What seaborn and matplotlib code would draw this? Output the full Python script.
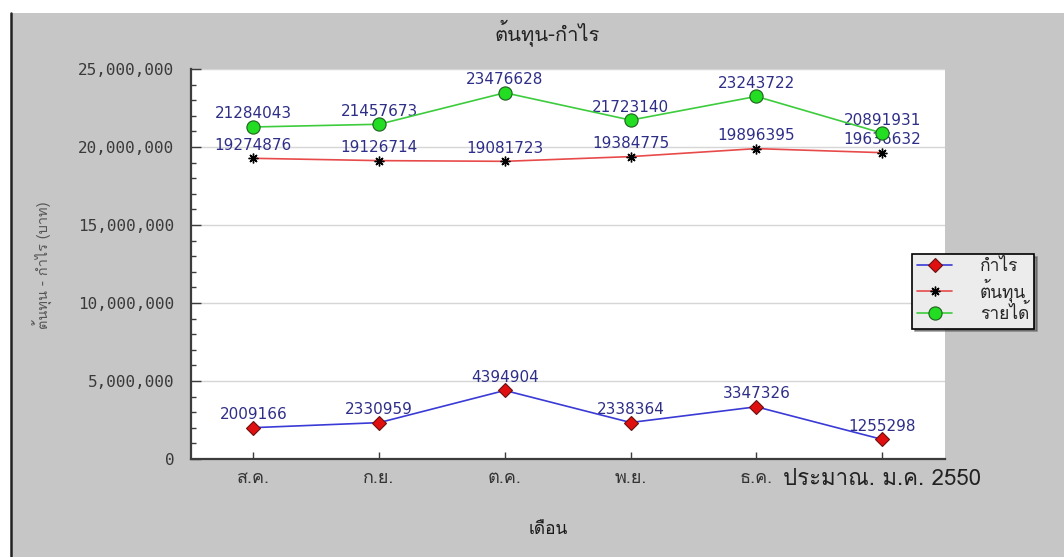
import numpy as np
import pandas as pd
import matplotlib
matplotlib.use("Agg")
import matplotlib.pyplot as plt
import seaborn as sns
from matplotlib import font_manager as fm
from matplotlib.ft2font import FT2Font
from matplotlib.patches import Rectangle
from matplotlib.lines import Line2D
from matplotlib.ticker import MultipleLocator, FuncFormatter

# ---- data -------------------------------------------------------------
months = ["ส.ค.", "ก.ย.", "ต.ค.", "พ.ย.", "ธ.ค.", "ประมาณ. ม.ค. 2550"]
profit = [2009166, 2330959, 4394904, 2338364, 3347326, 1255298]
cost = [19274876, 19126714, 19081723, 19384775, 19896395, 19636632]
revenue = [21284043, 21457673, 23476628, 21723140, 23243722, 20891931]

series_names = ["กำไร", "ต้นทุน", "รายได้"]
title_text = "ต้นทุน-กำไร"
xlabel_text = "เดือน"
ylabel_text = "ต้นทุน - กำไร (บาท)"


# ---- fonts: pick an installed family that has Thai glyphs ---------------
def family_with_glyph(ch):
    code = ord(ch)
    for entry in fm.fontManager.ttflist:
        try:
            if code in FT2Font(entry.fname).get_charmap():
                return entry.name
        except Exception:
            continue
    return None


thai_family = family_with_glyph("ก")
families = ([thai_family] if thai_family else []) + ["DejaVu Sans"]

sns.set_style("white")
plt.rcParams["font.family"] = families

W, H = 1064, 557
fig = plt.figure(figsize=(W / 100, H / 100), dpi=100)
fig.patch.set_facecolor("white")

# grey panel with a dark rule on its left edge
fig.patches.append(Rectangle((12 / W, 0), 1 - 12 / W, 1 - 13 / H,
                             transform=fig.transFigure, facecolor="#c6c6c6",
                             edgecolor="none", zorder=-2))
fig.lines.append(Line2D([10.8 / W, 10.8 / W], [0, 1 - 13 / H],
                        transform=fig.transFigure, color="#222222", lw=1.8,
                        zorder=-1))

left, right, top, bottom = 190.5, 945, 69, 459
ax = fig.add_axes([left / W, 1 - bottom / H, (right - left) / W, (bottom - top) / H])
ax.set_zorder(1)
ax.set_facecolor("white")

df = pd.DataFrame({
    "month": months * 3,
    "value": profit + cost + revenue,
    "series": [series_names[0]] * 6 + [series_names[1]] * 6 + [series_names[2]] * 6,
})
df["pos"] = np.tile(np.arange(len(months)), 3)

styles = {
    series_names[0]: dict(color="#3a3ad6", marker="D", markersize=7.5,
                          markerfacecolor="#e01010", markeredgecolor="#6a1010",
                          markeredgewidth=0.8),
    series_names[1]: dict(color="#e84a4a", marker=(8, 2, 0), markersize=7,
                          markerfacecolor="black", markeredgecolor="black",
                          markeredgewidth=1.0),
    series_names[2]: dict(color="#3ccc3c", marker="o", markersize=9.5,
                          markerfacecolor="#22dd22", markeredgecolor="#1f5f1f",
                          markeredgewidth=0.8),
}

for name in series_names:
    sub = df[df["series"] == name]
    sns.lineplot(data=sub, x="pos", y="value", ax=ax, label=name, sort=False,
                 linewidth=1.2, zorder=4, **styles[name])

# value labels above each point
for name in series_names:
    sub = df[df["series"] == name]
    for p, v in zip(sub["pos"], sub["value"]):
        ax.annotate(f"{v}", (p, v), xytext=(0, 4), textcoords="offset points",
                    ha="center", va="bottom", fontsize=11, color="#2e2e88",
                    family="DejaVu Sans", zorder=3)

# ---- axes styling ------------------------------------------------------
ax.set_xlim(-0.5, len(months) - 0.5)
ax.set_ylim(0, 25_000_000)
ax.yaxis.set_major_locator(MultipleLocator(5_000_000))
ax.yaxis.set_minor_locator(MultipleLocator(1_000_000))
ax.yaxis.set_major_formatter(FuncFormatter(lambda v, _: f"{int(v):,}"))
ax.set_xticks(np.arange(len(months)))
ax.set_xticklabels(months)

ax.grid(axis="y", which="major", color="#d6d6d6", lw=1.0, zorder=0)
ax.set_axisbelow(True)

for side in ("top", "right"):
    ax.spines[side].set_visible(False)
for side in ("left", "bottom"):
    ax.spines[side].set_color("#3c3c3c")
    ax.spines[side].set_linewidth(1.6)

ax.tick_params(axis="y", which="major", direction="in", length=7, width=1,
               color="#3c3c3c", left=True, pad=11.5, labelsize=11.5,
               labelcolor="#3a3a3a")
ax.tick_params(axis="y", which="minor", direction="in", length=3.5, width=1,
               color="#3c3c3c", left=True)
ax.tick_params(axis="x", which="major", direction="in", length=5, width=1,
               color="#3c3c3c", bottom=True, pad=7, labelsize=13,
               labelcolor="#333333")
for lab in ax.get_yticklabels():
    lab.set_family("DejaVu Sans Mono")
xlabels = ax.get_xticklabels()
xlabels[-1].set_fontsize(16)
xlabels[-1].set_color("#222222")

ax.set_xlabel(xlabel_text, fontsize=12.5, color="#1a1a1a")
ax.xaxis.set_label_coords((548 - left) / (right - left), (bottom - 530) / (bottom - top))
ax.xaxis.label.set_va("center")
ax.set_ylabel(ylabel_text, fontsize=10.5, color="#555555")
ax.yaxis.set_label_coords((43 - left) / (right - left), (bottom - 265) / (bottom - top))
ax.yaxis.label.set_va("center")

fig.text(547 / W, 1 - 33 / H, title_text, ha="center", va="center",
         fontsize=14.5, color="#222222")

leg = ax.legend(loc="upper left", bbox_to_anchor=(912 / W, 1 - 254 / H),
                bbox_transform=fig.transFigure, frameon=True, fancybox=False,
                shadow=True, edgecolor="black", facecolor="#ececec",
                framealpha=1, fontsize=12.5, handlelength=2.0,
                handletextpad=1.6, labelspacing=0.15, borderpad=0.3,
                borderaxespad=0)
leg.get_frame().set_linewidth(1.2)

fig.savefig("out.png", dpi=100, facecolor=fig.get_facecolor())
